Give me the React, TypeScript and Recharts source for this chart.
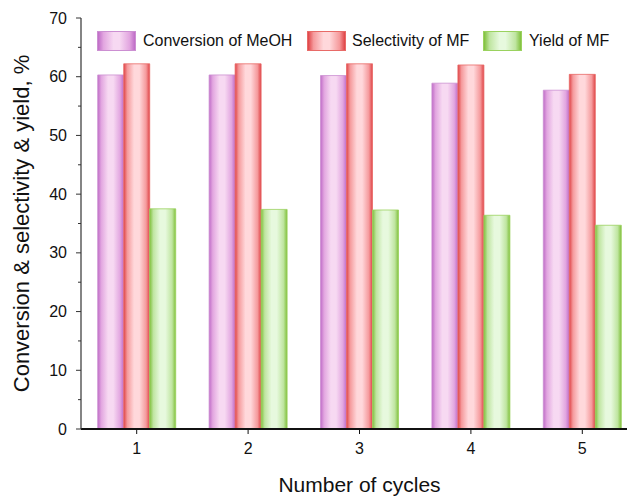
import { Bar, BarChart, XAxis, YAxis } from "recharts";

const cycles = ["1", "2", "3", "4", "5"];
const conversion = [60.3, 60.3, 60.2, 58.9, 57.7];
const selectivity = [62.2, 62.2, 62.2, 62.0, 60.4];
const yieldMF = [37.5, 37.4, 37.3, 36.4, 34.7];
const yTicks = [0, 5, 10, 15, 20, 25, 30, 35, 40, 45, 50, 55, 60, 65, 70];

const data = cycles.map((c, i) => ({
  cycle: c,
  conversion: conversion[i],
  selectivity: selectivity[i],
  yield: yieldMF[i],
}));

const FONT = "'Liberation Sans', Arial, sans-serif";

// edge / shoulder / centre colours for the cylinder-like shading
const SERIES = [
  { key: "conversion", name: "Conversion of MeOH", edge: "#bf6cc7", shoulder: "#e2a6e0", mid: "#f7d9f2", stroke: "#cc8fd2" },
  { key: "selectivity", name: "Selectivity of MF", edge: "#df4346", shoulder: "#f59a9c", mid: "#ffd8db", stroke: "#e86a67" },
  { key: "yield", name: "Yield of MF", edge: "#80c03c", shoulder: "#bfe5a0", mid: "#e7f9de", stroke: "#9ad25e" },
];

// legend items: box left, text left
const LEGEND_POS = [
  [97, 143],
  [307, 352],
  [483, 529],
];

const YTick = (props: any) => {
  const { x, y, payload } = props;
  const major = payload.value % 10 === 0;
  return (
    <g>
      <line x1={x - (major ? 5 : 3)} x2={x} y1={y} y2={y} stroke="#333" strokeWidth={1} />
      {major && (
        <text x={x - 14} y={y} dy={5.5} textAnchor="end" fontSize={16} fontFamily={FONT} fill="#111">
          {payload.value}
        </text>
      )}
    </g>
  );
};

// small inward ticks on the top frame line
const TopTick = (props: any) => {
  const { x, y } = props;
  return <line x1={x} x2={x} y1={y} y2={y + 3} stroke="#333" strokeWidth={1} />;
};

const grad = (s: (typeof SERIES)[number]) =>
  `linear-gradient(to right, ${s.edge} 0%, ${s.shoulder} 15%, ${s.mid} 42%, ${s.mid} 58%, ${s.shoulder} 85%, ${s.edge} 100%)`;

export default function App() {
  return (
    <div style={{ position: "absolute", left: 0, top: 0, width: 627, height: 496, overflow: "hidden", background: "#fff" }}>
      <BarChart
        width={638}
        height={496}
        data={data}
        margin={{ top: 18, right: 0, bottom: 0, left: 0 }}
        barCategoryGap="15%"
        barGap={0}
      >
        <defs>
          {SERIES.map((s) => (
            <linearGradient key={s.key} id={`grad-${s.key}`} x1="0" y1="0" x2="1" y2="0">
              <stop offset="0%" stopColor={s.edge} />
              <stop offset="14%" stopColor={s.shoulder} />
              <stop offset="40%" stopColor={s.mid} />
              <stop offset="60%" stopColor={s.mid} />
              <stop offset="86%" stopColor={s.shoulder} />
              <stop offset="100%" stopColor={s.edge} />
            </linearGradient>
          ))}
        </defs>
        <XAxis
          dataKey="cycle"
          height={67}
          axisLine={{ stroke: "#111", strokeWidth: 1.8 }}
          tickLine={{ stroke: "#111" }}
          tickSize={5}
          tickMargin={9}
          tick={{ fontSize: 16, fontFamily: FONT, fill: "#111" }}
          label={{
            value: "Number of cycles",
            position: "insideBottom",
            offset: 4,
            fontSize: 21,
            fontFamily: FONT,
            fill: "#111",
          }}
        />
        <XAxis
          xAxisId="top"
          dataKey="cycle"
          orientation="top"
          height={0}
          axisLine={{ stroke: "#111", strokeWidth: 1 }}
          tickLine={false}
          tickSize={0}
          tickMargin={0}
          tick={<TopTick />}
        />
        <YAxis
          width={81}
          domain={[0, 70]}
          ticks={yTicks}
          interval={0}
          tickSize={0}
          tickMargin={0}
          axisLine={{ stroke: "#333", strokeWidth: 1.2 }}
          tickLine={false}
          tick={<YTick />}
          label={{
            value: "Conversion & selectivity & yield, %",
            angle: -90,
            position: "insideLeft",
            offset: 21,
            fontSize: 22,
            fontFamily: FONT,
            fill: "#111",
            style: { textAnchor: "middle" },
          }}
        />
        {SERIES.map((s) => (
          <Bar
            key={s.key}
            dataKey={s.key}
            name={s.name}
            fill={`url(#grad-${s.key})`}
            stroke={s.stroke}
            strokeWidth={0.8}
            isAnimationActive={false}
          />
        ))}
      </BarChart>
      {SERIES.map((s, i) => (
        <div key={s.key}>
          <div
            style={{
              position: "absolute",
              left: LEGEND_POS[i][0],
              top: 31,
              width: 39,
              height: 20,
              boxSizing: "border-box",
              border: `1px solid ${s.stroke}`,
              background: grad(s),
            }}
          />
          <div
            style={{
              position: "absolute",
              left: LEGEND_POS[i][1],
              top: 31,
              height: 20,
              lineHeight: "20px",
              fontFamily: FONT,
              fontSize: 16,
              color: "#111",
              whiteSpace: "nowrap",
            }}
          >
            {s.name}
          </div>
        </div>
      ))}
    </div>
  );
}
